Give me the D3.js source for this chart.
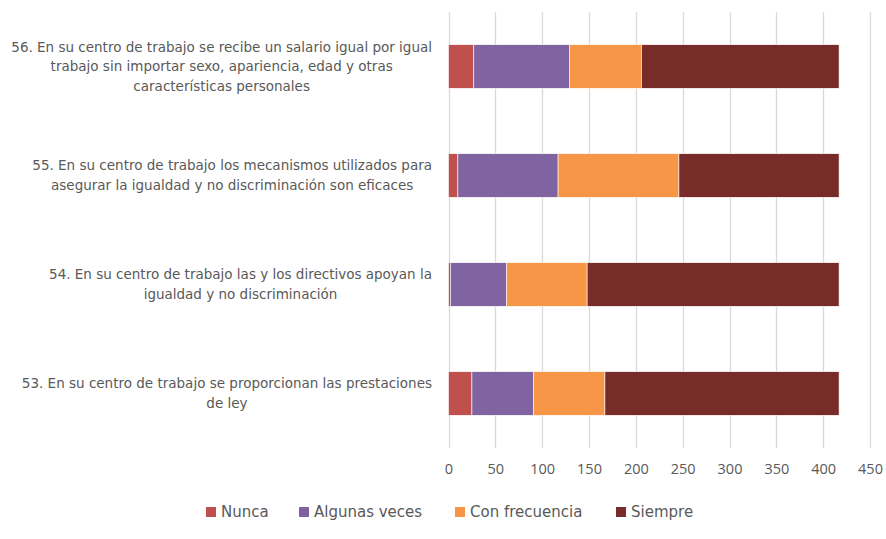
<!DOCTYPE html>
<html>
<head>
<meta charset="utf-8">
<script src="https://cdn.jsdelivr.net/npm/d3@7"></script>
<style>
  body { margin: 0; background: #fff; }
  svg text { font-family: "DejaVu Sans", sans-serif; fill: #595959; }
</style>
</head>
<body>
<svg id="chart" width="886" height="539"></svg>
<script>
// preguntas, de arriba hacia abajo
var categories = [
  "56. En su centro de trabajo se recibe un salario igual por igual|trabajo sin importar sexo, apariencia, edad y otras|características personales",
  "55. En su centro de trabajo los mecanismos utilizados para|asegurar la igualdad y no discriminación son eficaces",
  "54. En su centro de trabajo las y los directivos apoyan la|igualdad y no discriminación",
  "53. En su centro de trabajo se proporcionan las prestaciones|de ley"
];
var seriesNames = ["Nunca", "Algunas veces", "Con frecuencia", "Siempre"];
var nunca = [27, 10, 2, 25];
var algunasVeces = [102, 107, 60, 66];
var conFrecuencia = [77, 129, 86, 76];
var siempre = [211, 171, 269, 250];
var xTicks = [0, 50, 100, 150, 200, 250, 300, 350, 400, 450];
var colors = ["#C0504D", "#8064A2", "#F79646", "#772C2A"];

var svg = d3.select("#chart");
var lPad = 448.5, rEdge = 870, tPad = 12, bEdge = 448;

var rows = categories.map(function(c, i) {
  return { cat: c, Nunca: nunca[i], "Algunas veces": algunasVeces[i],
    "Con frecuencia": conFrecuencia[i], Siempre: siempre[i] };
});

var x = d3.scaleLinear().domain([0, 450]).range([lPad, rEdge]);
var y = d3.scaleBand().domain(categories).range([tPad, bEdge]).paddingInner(0.6).paddingOuter(0.3);
var color = d3.scaleOrdinal().domain(seriesNames).range(colors);

// gridlines
svg.append("g")
  .selectAll("line")
  .data(xTicks)
  .enter().append("line")
  .attr("x1", function(d) { return Math.round(x(d)) + 0.5; })
  .attr("x2", function(d) { return Math.round(x(d)) + 0.5; })
  .attr("y1", tPad)
  .attr("y2", bEdge)
  .attr("stroke", "#d9d9d9")
  .attr("stroke-width", 1.3);

// bars
var stack = d3.stack().keys(seriesNames)(rows);
svg.append("g")
  .selectAll("g")
  .data(stack)
  .enter().append("g")
  .attr("fill", function(d) { return color(d.key); })
  .selectAll("rect")
  .data(function(d) { return d; })
  .enter().append("rect")
  .attr("x", function(d) { return x(d[0]); })
  .attr("width", function(d) { return x(d[1]) - x(d[0]); })
  .attr("y", function(d) { return y(d.data.cat); })
  .attr("height", y.bandwidth())
  .attr("stroke", "#fff")
  .attr("stroke-width", 0.6);

// x axis labels
var xAxis = d3.axisBottom(x).tickValues(xTicks).tickSize(0).tickPadding(0);
var gx = svg.append("g")
  .attr("transform", "translate(0," + (bEdge + 16) + ")")
  .call(xAxis);
gx.select(".domain").remove();
gx.selectAll("text")
  .style("font-family", "'Open Sans', sans-serif")
  .style("font-size", "14.5px")
  .attr("fill", "#595959")
  .attr("dy", "0.71em");

// category labels, centred block with widest line ending at the plot edge
var labelRight = 432;
categories.forEach(function(c) {
  var lines = c.split("|");
  var lh = 19.5;
  var cy = y(c) + y.bandwidth() / 2;
  var g = svg.append("g");
  var t = g.selectAll("text")
    .data(lines)
    .enter().append("text")
    .attr("text-anchor", "middle")
    .attr("y", function(d, i) { return cy + (i - (lines.length - 1) / 2) * lh; })
    .attr("dy", "0.35em")
    .style("font-size", "13.5px")
    .text(function(d) { return d; });
  var maxW = d3.max(t.nodes(), function(n) { return n.getComputedTextLength(); });
  t.attr("x", labelRight - maxW / 2);
});

// legend
var legendX = [206, 299, 455, 616];
var legend = svg.append("g")
  .selectAll("g")
  .data(seriesNames)
  .enter().append("g")
  .attr("transform", function(d, i) { return "translate(" + legendX[i] + ",512)"; });
legend.append("rect")
  .attr("x", 0).attr("y", -5)
  .attr("width", 10).attr("height", 10)
  .attr("fill", function(d) { return color(d); });
legend.append("text")
  .attr("x", 15)
  .attr("dy", "0.35em")
  .style("font-size", "15px")
  .text(function(d) { return d; });
</script>
</body>
</html>
